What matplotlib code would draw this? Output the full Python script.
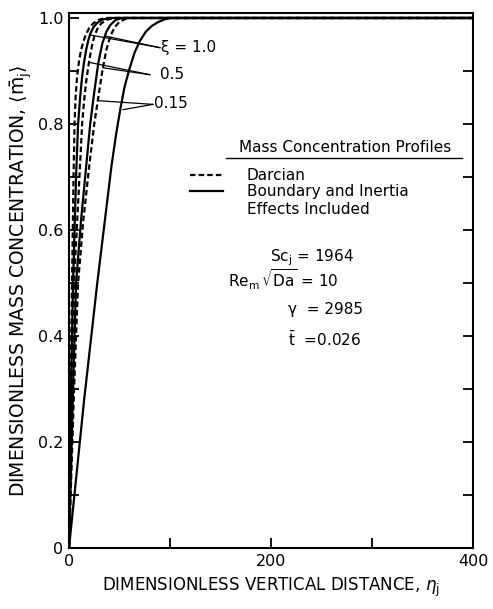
import matplotlib
matplotlib.use("Agg")
import matplotlib.pyplot as plt
from matplotlib.ticker import FixedLocator, FixedFormatter

plt.rcParams["font.family"] = ["DejaVu Sans"]
plt.rcParams["lines.scale_dashes"] = False

# profiles: eta_j vs <m_j>
darcy_a_eta = [0, 1.5, 3, 4.5, 5.5, 6.5, 8, 10, 12, 14.5, 17, 20, 24, 30, 37, 400]
darcy_a_m = [0, 0.3, 0.5, 0.7, 0.8, 0.85, 0.89, 0.92, 0.94, 0.957, 0.97, 0.981, 0.99, 0.997, 1.0, 1.0]

darcy_b_eta = [0, 3, 5, 9, 13, 15, 17, 19, 21, 23, 25, 28, 32, 38, 45, 400]
darcy_b_m = [0, 0.3, 0.5, 0.65, 0.8, 0.845, 0.88, 0.907, 0.93, 0.95, 0.965, 0.979, 0.99, 0.997, 1.0, 1.0]

darcy_c_eta = [0, 5, 9, 14, 20, 25, 29, 33, 37, 41, 45, 50, 58, 400]
darcy_c_m = [0, 0.3, 0.5, 0.615, 0.72, 0.8, 0.85, 0.9, 0.94, 0.966, 0.982, 0.993, 1.0, 1.0]

full_a_eta = [0, 2, 4, 7, 9, 11, 13, 15, 17, 19, 21, 24, 28, 33, 40, 400]
full_a_m = [0, 0.3, 0.5, 0.7, 0.8, 0.85, 0.89, 0.918, 0.94, 0.957, 0.97, 0.982, 0.991, 0.997, 1.0, 1.0]

full_b_eta = [0, 4, 7, 12, 17, 21, 25, 29, 33, 37, 41, 46, 52, 400]
full_b_m = [0, 0.3, 0.5, 0.62, 0.72, 0.8, 0.86, 0.915, 0.952, 0.974, 0.987, 0.996, 1.0, 1.0]

full_c_eta = [0, 15, 28, 35, 42, 47, 51, 55, 60, 65, 70, 76, 82, 88, 94, 100, 400]
full_c_m = [0, 0.28, 0.5, 0.61, 0.72, 0.785, 0.83, 0.87, 0.905, 0.935, 0.956, 0.974, 0.985, 0.992, 0.997, 1.0, 1.0]

x_ticks = [0, 100, 200, 300, 400]
x_labels = ["0", "", "200", "", "400"]
y_ticks = [0, 0.1, 0.2, 0.3, 0.4, 0.5, 0.6, 0.7, 0.8, 0.9, 1.0]
y_labels = ["0", "", "0.2", "", "0.4", "", "0.6", "", "0.8", "", "1.0"]

# leader lines for the xi labels (apex, end1, end2) and label spots
xi_labels = ["ξ = 1.0", "0.5", "0.15"]
xi_apex = [(90, 0.944), (80, 0.893), (83, 0.837)]
xi_ends = [[(20.8, 0.968), (35.6, 0.966)],
           [(20.8, 0.916), (33.7, 0.906)],
           [(28.7, 0.844), (53.5, 0.827)]]
xi_text = [(91, 0.944), (90, 0.893), (84, 0.838)]

fig = plt.figure(figsize=(4.93, 6.09), dpi=100)
ax = fig.add_axes([69 / 493, 1 - 548 / 609, 404 / 493, 535 / 609])

lw = 1.6
dash = (0, (4, 2.2))
for e, m in [(darcy_a_eta, darcy_a_m), (darcy_b_eta, darcy_b_m), (darcy_c_eta, darcy_c_m)]:
    ax.plot(e, m, color="black", lw=lw, linestyle=dash)
for e, m in [(full_a_eta, full_a_m), (full_b_eta, full_b_m), (full_c_eta, full_c_m)]:
    ax.plot(e, m, color="black", lw=lw)

for lab, apex, ends, tpos in zip(xi_labels, xi_apex, xi_ends, xi_text):
    for end in ends:
        ax.plot([apex[0], end[0]], [apex[1], end[1]], color="black", lw=0.9)
    ax.text(tpos[0], tpos[1], lab, fontsize=11, va="center", ha="left")

ax.set_xlim(0, 400)
ax.set_ylim(0, 1.0094)
ax.xaxis.set_major_locator(FixedLocator(x_ticks))
ax.xaxis.set_major_formatter(FixedFormatter(x_labels))
ax.yaxis.set_major_locator(FixedLocator(y_ticks))
ax.yaxis.set_major_formatter(FixedFormatter(y_labels))
ax.tick_params(direction="in", length=7, width=1.3, labelsize=11.5,
               left=True, right=True, bottom=True, top=False, pad=4)
for s in ax.spines.values():
    s.set_linewidth(1.5)

ax.set_xlabel(r"DIMENSIONLESS VERTICAL DISTANCE, $\eta_\mathregular{j}$", fontsize=12, labelpad=5)
ax.set_ylabel(r"DIMENSIONLESS MASS CONCENTRATION, $\langle\bar{\mathregular{m}}_\mathregular{j}\rangle$",
              fontsize=13.5, labelpad=3)

# legend block
tr = ax.transAxes
ax.text(0.683, 0.748, "Mass Concentration Profiles", transform=tr, fontsize=11,
        ha="center", va="center")
ax.plot([0.389, 0.973], [0.729, 0.729], color="black", lw=1.0, transform=tr)
ax.plot([0.30, 0.38], [0.697, 0.697], color="black", lw=lw, linestyle=dash, transform=tr)
ax.plot([0.30, 0.38], [0.667, 0.667], color="black", lw=lw, transform=tr)
ax.text(0.44, 0.697, "Darcian", transform=tr, fontsize=11, va="center")
ax.text(0.44, 0.667, "Boundary and Inertia", transform=tr, fontsize=11, va="center")
ax.text(0.44, 0.632, "Effects Included", transform=tr, fontsize=11, va="center")

ax.text(0.498, 0.542, r"Sc$_\mathregular{j}$ = 1964", transform=tr, fontsize=11, va="center")
ax.text(0.394, 0.501, r"$\mathregular{Re_m\,\sqrt{Da}}$ = 10", transform=tr, fontsize=11, va="center")
ax.text(0.542, 0.445, "γ  = 2985", transform=tr, fontsize=11, va="center")
ax.text(0.542, 0.389, r"$\bar{\mathregular{t}}$  =0.026", transform=tr, fontsize=11, va="center")

fig.savefig("out.png", dpi=100)
